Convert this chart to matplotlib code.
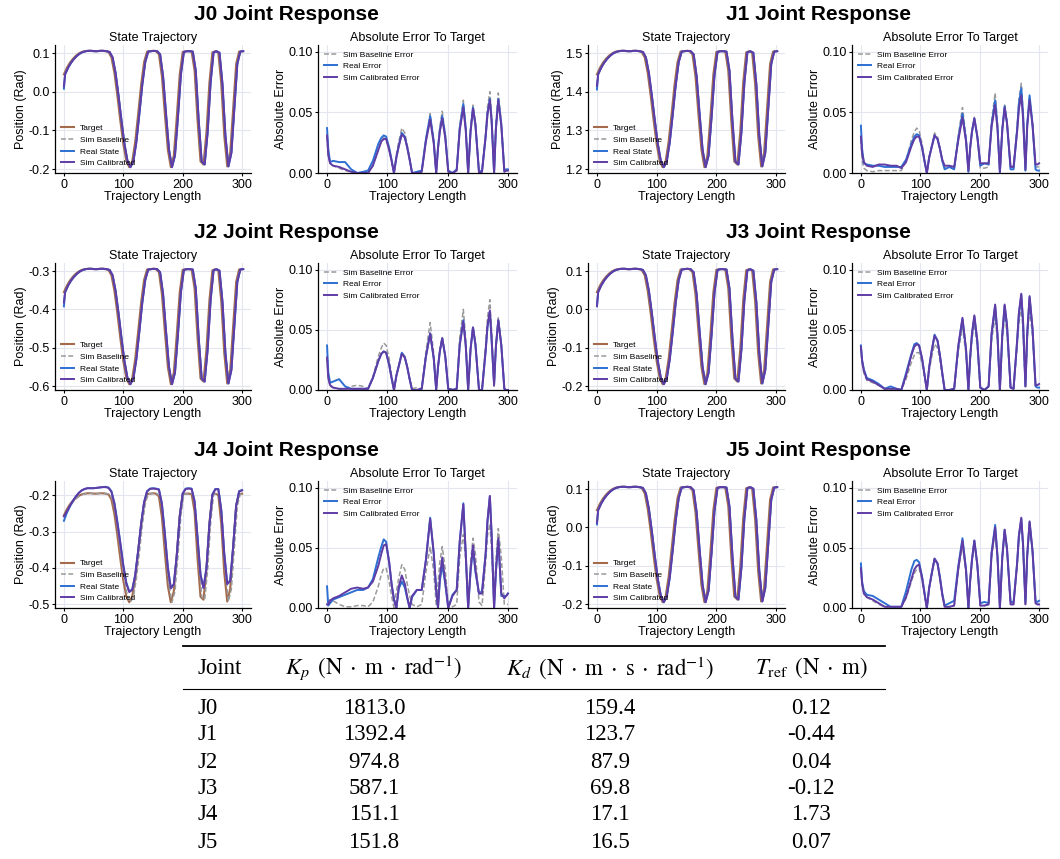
import numpy as np
import matplotlib.pyplot as plt
from matplotlib.lines import Line2D
from matplotlib.ticker import MultipleLocator, FormatStrFormatter

plt.rcParams["font.family"] = ["Liberation Sans", "DejaVu Sans"]
plt.rcParams["mathtext.fontset"] = "stix"

# ---------------------------------------------------------
# data
# ---------------------------------------------------------
joints = ["J0", "J1", "J2", "J3", "J4", "J5"]

# position traces are sampled every 5 steps
steps = np.arange(0, 301, 5)

# J0 target (rad); the other joints follow the same target, only offset
target_j0 = [
    0.045, 0.062, 0.075, 0.085, 0.093, 0.099, 0.103, 0.105, 0.106, 0.106,
    0.105, 0.105, 0.106, 0.106, 0.105, 0.103, 0.089, 0.049, -0.010, -0.075,
    -0.135, -0.178, -0.195, -0.180, -0.130, -0.058, 0.018, 0.077, 0.104, 0.105,
    0.106, 0.105, 0.097, 0.040, -0.058, -0.150, -0.195, -0.165, -0.066, 0.045,
    0.103, 0.105, 0.105, 0.104, 0.055, -0.075, -0.180, -0.188, -0.105, 0.024,
    0.102, 0.105, 0.101, 0.020, -0.114, -0.193, -0.158, -0.043, 0.072, 0.104,
    0.105,
]
joint_offset = [0.0, 1.4, -0.4, 0.0, -0.3, 0.0]
track_lag = 2  # steps the tracked traces trail the target

real_start = [0.008, 1.406, -0.392, 0.008, -0.270, 0.008]
calib_start = [0.014, 1.415, -0.382, 0.009, -0.258, 0.012]
base_start = [0.015, 1.417, -0.382, 0.010, -0.260, 0.012]

# J4 real / calibrated traces do not reach the target amplitude
j4_real = [
    -0.270, -0.248, -0.231, -0.216, -0.203, -0.193, -0.186, -0.182, -0.180, -0.180,
    -0.180, -0.179, -0.178, -0.177, -0.176, -0.178, -0.188, -0.220, -0.272, -0.330,
    -0.392, -0.440, -0.465, -0.460, -0.420, -0.352, -0.278, -0.218, -0.188, -0.181,
    -0.180, -0.181, -0.183, -0.222, -0.305, -0.398, -0.455, -0.445, -0.365, -0.258,
    -0.194, -0.181, -0.180, -0.181, -0.215, -0.315, -0.418, -0.455, -0.400, -0.280,
    -0.197, -0.182, -0.182, -0.240, -0.360, -0.443, -0.435, -0.340, -0.228, -0.188,
    -0.185,
]
j4_calib = [
    -0.258, -0.244, -0.229, -0.215, -0.203, -0.193, -0.186, -0.182, -0.180, -0.180,
    -0.180, -0.179, -0.178, -0.177, -0.177, -0.179, -0.190, -0.223, -0.276, -0.334,
    -0.395, -0.443, -0.467, -0.461, -0.421, -0.353, -0.279, -0.219, -0.189, -0.182,
    -0.181, -0.182, -0.184, -0.224, -0.308, -0.401, -0.457, -0.446, -0.366, -0.259,
    -0.195, -0.182, -0.181, -0.182, -0.217, -0.318, -0.420, -0.456, -0.401, -0.281,
    -0.198, -0.183, -0.183, -0.242, -0.362, -0.445, -0.436, -0.341, -0.229, -0.189,
    -0.186,
]

# absolute errors, in units of 1e-3 rad, at these steps
err_steps = [
    0, 2, 5, 10, 20, 30, 40, 50, 60, 68,
    76, 85, 90, 94, 98, 103, 107, 111, 115,
    119, 124, 129, 133, 137, 141,
    149, 157,
    164, 171, 177, 181, 184,
    187, 191, 196, 201,
    208, 215,
    220, 226, 230, 234,
    238, 242, 246, 252,
    257,
    263, 266, 270, 273, 277,
    280, 284, 289, 294,
    297, 300,
]

j0_err_real = [37, 20, 9, 10, 9, 9, 3, 0, 1, 2,
               10, 24, 29, 31, 30, 21, 11, 0, 13,
               23, 33, 30, 21, 11, 0,
               1, 2,
               28, 47, 26, 0, 21,
               35, 47, 31, 2,
               0, 3,
               37, 57, 37, 0,
               35, 54, 40, 1,
               2,
               30, 49, 61, 43, 0,
               37, 61, 40, 2,
               3, 3]
j0_err_calib = [31, 15, 8, 6, 5, 3, 1, 0, 0, 0,
                6, 19, 26, 28, 28, 19, 10, 0, 13,
                22, 32, 29, 21, 11, 0,
                0, 1,
                26, 44, 24, 0, 20,
                34, 45, 29, 1,
                0, 2,
                35, 54, 35, 0,
                34, 53, 40, 0,
                1,
                30, 48, 60, 42, 0,
                36, 60, 39, 1,
                2, 2]
j0_err_base = [30, 14, 8, 6, 4, 2, 1, 0, 0, 0,
               6, 19, 26, 29, 28, 19, 10, 0, 15,
               26, 37, 33, 23, 12, 0,
               0, 1,
               28, 49, 27, 0, 22,
               38, 51, 32, 1,
               0, 2,
               39, 60, 38, 0,
               36, 56, 42, 0,
               1,
               33, 54, 67, 46, 0,
               40, 66, 42, 1,
               2, 2]

j1_err_real = [39, 20, 8, 7, 6, 6, 5, 5, 5, 5,
               11, 24, 30, 32, 31, 21, 10, 0, 13,
               21, 31, 28, 20, 10, 3,
               5, 3,
               29, 49, 27, 1, 21,
               34, 45, 30, 6,
               8, 7,
               40, 60, 38, 0,
               36, 55, 41, 3,
               3,
               36, 57, 70, 49, 2,
               40, 64, 40, 3,
               2, 2]
j1_err_calib = [30, 16, 9, 6, 5, 7, 7, 6, 6, 4,
                9, 22, 28, 30, 30, 21, 10, 0, 13,
                21, 31, 28, 20, 11, 6,
                6, 5,
                27, 46, 26, 2, 21,
                34, 45, 30, 8,
                8, 8,
                38, 56, 36, 1,
                35, 54, 41, 5,
                5,
                34, 53, 64, 45, 3,
                38, 60, 39, 7,
                7, 8]
j1_err_base = [28, 10, 4, 2, 1, 2, 2, 2, 2, 2,
               10, 27, 34, 37, 35, 24, 11, 0, 13,
               22, 33, 30, 21, 10, 4,
               5, 3,
               31, 54, 30, 1, 21,
               35, 46, 30, 4,
               4, 5,
               43, 66, 41, 0,
               36, 56, 42, 4,
               6,
               38, 61, 74, 51, 2,
               39, 62, 40, 5,
               5, 5]

j2_err_real = [37, 15, 6, 7, 9, 3, 1, 1, 1, 1,
               10, 24, 30, 32, 31, 21, 10, 0, 12,
               20, 31, 27, 19, 9, 0,
               0, 1,
               28, 47, 26, 0, 19,
               32, 43, 28, 1,
               0, 1,
               38, 58, 37, 0,
               34, 52, 38, 0,
               0,
               32, 52, 65, 40, 5,
               36, 58, 37, 1,
               0, 0]
j2_err_calib = [27, 10, 4, 2, 1, 1, 1, 1, 1, 1,
                10, 24, 30, 32, 31, 21, 10, 0, 12,
                20, 30, 27, 19, 9, 0,
                0, 1,
                28, 47, 26, 0, 19,
                32, 43, 28, 1,
                0, 1,
                37, 57, 37, 0,
                34, 52, 38, 0,
                0,
                33, 53, 66, 42, 4,
                36, 58, 37, 1,
                0, 0]
j2_err_base = [27, 10, 3, 2, 1, 1, 3, 4, 3, 1,
               11, 28, 35, 39, 37, 26, 12, 0, 12,
               20, 31, 28, 19, 9, 1,
               2, 1,
               32, 56, 30, 0, 19,
               33, 44, 29, 1,
               1, 1,
               43, 67, 42, 0,
               34, 53, 39, 0,
               0,
               37, 60, 75, 48, 3,
               37, 60, 38, 1,
               0, 0]

j3_err_real = [37, 25, 17, 10, 8, 5, 1, 3, 1, 0,
               14, 30, 38, 39, 37, 26, 13, 0, 19,
               32, 46, 41, 29, 14, 0,
               0, 1,
               36, 59, 33, 0, 27,
               46, 61, 40, 2,
               0, 3,
               46, 70, 45, 0,
               45, 70, 53, 2,
               1,
               40, 63, 79, 56, 3,
               46, 77, 50, 3,
               2, 2]
j3_err_calib = [36, 24, 16, 9, 7, 4, 1, 1, 1, 0,
                12, 29, 36, 38, 37, 26, 13, 0, 19,
                32, 45, 41, 29, 14, 0,
                0, 1,
                37, 60, 34, 0, 28,
                47, 62, 41, 2,
                0, 3,
                47, 71, 46, 0,
                46, 71, 54, 2,
                1,
                41, 64, 80, 57, 3,
                47, 78, 51, 4,
                4, 5]
j3_err_base = [35, 22, 14, 8, 6, 4, 1, 1, 1, 0,
               9, 23, 29, 31, 31, 22, 11, 0, 16,
               27, 38, 35, 25, 12, 0,
               0, 1,
               32, 52, 30, 0, 25,
               42, 55, 36, 2,
               0, 3,
               41, 61, 40, 0,
               41, 62, 47, 2,
               1,
               36, 56, 69, 49, 3,
               41, 68, 45, 4,
               4, 4]

j4_err_real = [18, 2, 4, 7, 9, 11, 13, 15, 15, 17,
               24, 42, 51, 57, 55, 38, 20, 7, 0,
               16, 22, 17, 8, 0, 9,
               15, 15,
               40, 75, 45, 15, 0,
               22, 36, 20, 0,
               11, 15,
               55, 87, 45, 0,
               30, 50, 30, 12,
               14,
               45, 72, 93, 60, 0,
               30, 57, 10, 10,
               10, 12]
j4_err_calib = [3, 3, 6, 8, 10, 13, 16, 17, 16, 17,
                22, 35, 45, 52, 53, 38, 20, 7, 0,
                18, 27, 20, 9, 0, 10,
                15, 15,
                40, 74, 45, 15, 0,
                25, 42, 22, 0,
                10, 15,
                55, 86, 45, 0,
                32, 52, 32, 12,
                12,
                45, 72, 93, 60, 0,
                30, 58, 12, 8,
                10, 12]
j4_err_base = [5, 6, 7, 6, 3, 1, 1, 2, 2, 1,
               5, 18, 28, 33, 33, 22, 10, 0, 14,
               25, 36, 32, 20, 10, 3,
               1, 3,
               30, 51, 30, 3, 20,
               38, 51, 32, 3,
               1, 3,
               42, 61, 40, 2,
               38, 58, 45, 5,
               2,
               38, 60, 70, 48, 3,
               40, 66, 42, 3,
               3, 3]

j5_err_real = [37, 22, 14, 11, 10, 7, 4, 1, 1, 1,
               14, 32, 39, 40, 38, 26, 13, 0, 17,
               28, 41, 37, 26, 12, 2,
               4, 6,
               35, 58, 32, 0, 23,
               40, 56, 36, 4,
               5, 4,
               46, 69, 43, 0,
               42, 65, 49, 5,
               5,
               37, 60, 74, 52, 5,
               43, 71, 47, 6,
               5, 6]
j5_err_calib = [33, 20, 12, 9, 7, 4, 1, 1, 1, 1,
                9, 24, 32, 35, 36, 25, 12, 0, 17,
                28, 41, 37, 25, 11, 1,
                1, 2,
                33, 56, 31, 0, 23,
                40, 56, 36, 2,
                2, 3,
                45, 67, 42, 0,
                42, 65, 49, 3,
                3,
                37, 60, 75, 53, 3,
                44, 72, 47, 4,
                3, 3]
j5_err_base = [33, 20, 12, 9, 6, 3, 1, 1, 1, 1,
               8, 22, 29, 32, 33, 23, 11, 0, 16,
               27, 40, 36, 25, 11, 1,
               1, 2,
               31, 52, 30, 0, 22,
               38, 54, 35, 2,
               2, 3,
               42, 63, 40, 0,
               41, 63, 48, 3,
               3,
               36, 58, 72, 51, 3,
               42, 70, 46, 4,
               3, 3]

# identified PD parameters
kp_vals = [1813.0, 1392.4, 974.8, 587.1, 151.1, 151.8]
kd_vals = [159.4, 123.7, 87.9, 69.8, 17.1, 16.5]
tref_vals = [0.12, -0.44, 0.04, -0.12, 1.73, 0.07]

err_real = [j0_err_real, j1_err_real, j2_err_real, j3_err_real, j4_err_real, j5_err_real]
err_calib = [j0_err_calib, j1_err_calib, j2_err_calib, j3_err_calib, j4_err_calib, j5_err_calib]
err_base = [j0_err_base, j1_err_base, j2_err_base, j3_err_base, j4_err_base, j5_err_base]

# ---------------------------------------------------------
# styling
# ---------------------------------------------------------
C_TGT = "#a36a4c"
C_BASE = "#9a9a9a"
C_REAL = "#2d6fd2"
C_CAL = "#5f3ca6"
DASH = (0, (3.2, 1.6))
FS = 9

W, H = 1060, 859
fig = plt.figure(figsize=(W / 100, H / 100), dpi=100)


def box(x0, y0, x1, y1):
    return [x0 / W, 1 - y1 / H, (x1 - x0) / W, (y1 - y0) / H]


def style(ax):
    ax.grid(True, color="#e3e6ee", lw=0.8)
    ax.set_axisbelow(True)
    for s in ("top", "right"):
        ax.spines[s].set_visible(False)
    for s in ("left", "bottom"):
        ax.spines[s].set_linewidth(0.9)
    ax.tick_params(labelsize=FS, length=2.5, width=0.8, pad=1.5)
    ax.set_xticks([0, 100, 200, 300])
    ax.set_xlim(-15, 315)
    ax.set_xlabel("Trajectory Length", fontsize=FS, labelpad=0)


cols = [(55, 251, 318, 517), (588, 785, 852, 1048)]
rows = [(45, 173), (263, 390), (481, 608)]
title_y = [14, 232, 450]

for j, name in enumerate(joints):
    r, c = j // 2, j % 2
    sx0, sx1, ex0, ex1 = cols[c]
    y0, y1 = rows[r]

    fig.text(((sx0 + ex1) / 2) / W, 1 - title_y[r] / H, f"{name} Joint Response",
             ha="center", va="center", fontsize=15, fontweight="bold")

    # ---- state trajectory ----
    ax = fig.add_axes(box(sx0, y0, sx1, y1))
    style(ax)
    tgt = np.array(target_j0) + joint_offset[j]
    lagged = np.r_[0, steps + track_lag]
    ax.plot(steps, tgt, color=C_TGT, lw=1.5, label="Target")
    ax.plot(lagged, np.r_[base_start[j], tgt], color=C_BASE, lw=1.1, ls=DASH,
            label="Sim Baseline")
    if name == "J4":
        ax.plot(steps, j4_real, color=C_REAL, lw=1.4, label="Real State")
        ax.plot(steps, j4_calib, color=C_CAL, lw=1.4, label="Sim Calibrated")
    else:
        ax.plot(lagged, np.r_[real_start[j], tgt], color=C_REAL, lw=1.4, label="Real State")
        ax.plot(lagged, np.r_[calib_start[j], tgt], color=C_CAL, lw=1.4,
                label="Sim Calibrated")
    ax.set_xlim(-15, 315)
    ax.yaxis.set_major_locator(MultipleLocator(0.1))
    ax.yaxis.set_major_formatter(FormatStrFormatter("%.1f"))
    ax.set_ylabel("Position (Rad)", fontsize=FS, labelpad=1)
    ax.set_title("State Trajectory", fontsize=FS, pad=3)
    ax.legend(loc="lower left", frameon=False, fontsize=6, handlelength=1.6,
              labelspacing=0.45, handletextpad=0.7, borderaxespad=0.3)

    # ---- absolute error ----
    ax = fig.add_axes(box(ex0, y0, ex1, y1))
    style(ax)
    ax.plot(err_steps, np.array(err_base[j]) / 1000, color=C_BASE, lw=1.1, ls=DASH,
            label="Sim Baseline Error")
    ax.plot(err_steps, np.array(err_real[j]) / 1000, color=C_REAL, lw=1.4,
            label="Real Error")
    ax.plot(err_steps, np.array(err_calib[j]) / 1000, color=C_CAL, lw=1.4,
            label="Sim Calibrated Error")
    ax.set_ylim(0, 0.1055)
    ax.set_yticks([0.0, 0.05, 0.10])
    ax.yaxis.set_major_formatter(FormatStrFormatter("%.2f"))
    ax.set_ylabel("Absolute Error", fontsize=FS, labelpad=1)
    ax.set_title("Absolute Error To Target", fontsize=FS, pad=3)
    ax.legend(loc="upper left", frameon=False, fontsize=6, handlelength=1.6,
              labelspacing=0.45, handletextpad=0.7, borderaxespad=0.3)

# ---------------------------------------------------------
# parameter table
# ---------------------------------------------------------
fy = lambda y: 1 - y / H
fig.add_artist(Line2D([183 / W, 885 / W], [fy(646)] * 2, color="black", lw=1.3))
fig.add_artist(Line2D([183 / W, 885 / W], [fy(689)] * 2, color="black", lw=0.8))

tfont = dict(fontsize=16.5, family=["Liberation Serif", "DejaVu Serif"], va="center")
col_cx = [374, 610, 811]
fig.text(198 / W, fy(668), "Joint", ha="left", **tfont)
fig.text(col_cx[0] / W, fy(668),
         r"$K_p\ \,(\mathrm{N}\;\cdot\;\mathrm{m}\;\cdot\;\mathrm{rad}^{-1})$",
         ha="center", **tfont)
fig.text(col_cx[1] / W, fy(668),
         r"$K_d\ \,(\mathrm{N}\;\cdot\;\mathrm{m}\;\cdot\;\mathrm{s}\;\cdot\;\mathrm{rad}^{-1})$",
         ha="center", **tfont)
fig.text(col_cx[2] / W, fy(668), r"$T_{\mathrm{ref}}\ \,(\mathrm{N}\;\cdot\;\mathrm{m})$",
         ha="center", **tfont)

row_y = [708, 735, 762, 788, 815, 842]
for j, name in enumerate(joints):
    fig.text(198 / W, fy(row_y[j]), name, ha="left", **tfont)
    fig.text(col_cx[0] / W, fy(row_y[j]), f"{kp_vals[j]:.1f}", ha="center", **tfont)
    fig.text(col_cx[1] / W, fy(row_y[j]), f"{kd_vals[j]:.1f}", ha="center", **tfont)
    fig.text(col_cx[2] / W, fy(row_y[j]), f"{tref_vals[j]:.2f}", ha="center", **tfont)

fig.savefig("out.png", dpi=100)
